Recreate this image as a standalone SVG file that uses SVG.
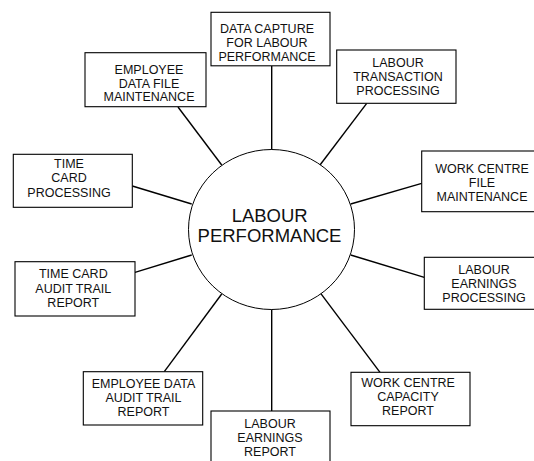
<svg xmlns="http://www.w3.org/2000/svg" width="534" height="461" viewBox="0 0 534 461">
<style>
.box{fill:#fff;stroke:#000;stroke-width:1.1}
.t{font-family:"Liberation Sans",Arial,sans-serif;font-size:12.5px;fill:#111;text-anchor:middle}
.big{font-family:"Liberation Sans",Arial,sans-serif;font-size:18.5px;fill:#111;text-anchor:middle}
.c line{stroke:#000;stroke-width:1.4}
</style>
<rect width="534" height="461" fill="#fff"/>
<g class="c" id="connectors">
<line x1="271.7" y1="66" x2="271.7" y2="150"/>
<line x1="178" y1="107" x2="221.7" y2="165"/>
<line x1="366.7" y1="103.3" x2="320" y2="165"/>
<line x1="421.7" y1="183.3" x2="350.7" y2="204"/>
<line x1="424.3" y1="277.3" x2="350.7" y2="255"/>
<line x1="380" y1="372.3" x2="320.7" y2="293.3"/>
<line x1="271.7" y1="309" x2="271.7" y2="411"/>
<line x1="164.3" y1="371.7" x2="221.7" y2="294"/>
<line x1="135" y1="272.3" x2="191.7" y2="255"/>
<line x1="132.3" y1="186" x2="191.7" y2="204"/>
</g>
<g id="center">
<ellipse cx="271.5" cy="229.5" rx="83" ry="80" fill="#fff" stroke="#000" stroke-width="1"/>
<text class="big" x="269.7" y="221.7">LABOUR</text>
<text class="big" x="269.5" y="241.7">PERFORMANCE</text>
</g>
<g id="n-capture">
<rect class="box" x="211" y="12.3" width="119" height="53.5"/>
<text class="t" x="267" y="32.5">DATA CAPTURE</text>
<text class="t" x="267" y="46.5">FOR LABOUR</text>
<text class="t" x="267" y="60.5">PERFORMANCE</text>
</g>
<g id="n-empfile">
<rect class="box" x="85" y="52.7" width="121" height="54"/>
<text class="t" x="149" y="74">EMPLOYEE</text>
<text class="t" x="149" y="87.5">DATA FILE</text>
<text class="t" x="149" y="100.5">MAINTENANCE</text>
</g>
<g id="n-transaction">
<rect class="box" x="336.7" y="50" width="119.3" height="53.3"/>
<text class="t" x="398" y="66.7">LABOUR</text>
<text class="t" x="398" y="80.7">TRANSACTION</text>
<text class="t" x="398" y="95">PROCESSING</text>
</g>
<g id="n-wcfile">
<rect class="box" x="421.7" y="151" width="121" height="60.7"/>
<text class="t" x="482" y="173.3">WORK CENTRE</text>
<text class="t" x="482" y="186.7">FILE</text>
<text class="t" x="482" y="201">MAINTENANCE</text>
</g>
<g id="n-timecard">
<rect class="box" x="13.3" y="154.3" width="119" height="53"/>
<text class="t" x="69" y="167.7">TIME</text>
<text class="t" x="69" y="182.3">CARD</text>
<text class="t" x="69" y="196.7">PROCESSING</text>
</g>
<g id="n-earnproc">
<rect class="box" x="424.3" y="257.3" width="120" height="52"/>
<text class="t" x="484" y="274">LABOUR</text>
<text class="t" x="484" y="288.3">EARNINGS</text>
<text class="t" x="484" y="302.3">PROCESSING</text>
</g>
<g id="n-tcaudit">
<rect class="box" x="15" y="261.7" width="120" height="54.3"/>
<text class="t" x="73.3" y="278.3">TIME CARD</text>
<text class="t" x="73.3" y="292.7">AUDIT TRAIL</text>
<text class="t" x="73.3" y="306.7">REPORT</text>
</g>
<g id="n-empaudit">
<rect class="box" x="83.3" y="371.7" width="119.4" height="53.3"/>
<text class="t" x="143.5" y="388.3">EMPLOYEE DATA</text>
<text class="t" x="143.5" y="401.7">AUDIT TRAIL</text>
<text class="t" x="143.5" y="416">REPORT</text>
</g>
<g id="n-earnrep">
<rect class="box" x="211" y="411" width="119" height="60"/>
<text class="t" x="270" y="427.7">LABOUR</text>
<text class="t" x="270" y="442.3">EARNINGS</text>
<text class="t" x="270" y="456">REPORT</text>
</g>
<g id="n-wccap">
<rect class="box" x="351" y="372.3" width="119" height="53.4"/>
<text class="t" x="408" y="386.7">WORK CENTRE</text>
<text class="t" x="408" y="400.7">CAPACITY</text>
<text class="t" x="408" y="415">REPORT</text>
</g>
</svg>
